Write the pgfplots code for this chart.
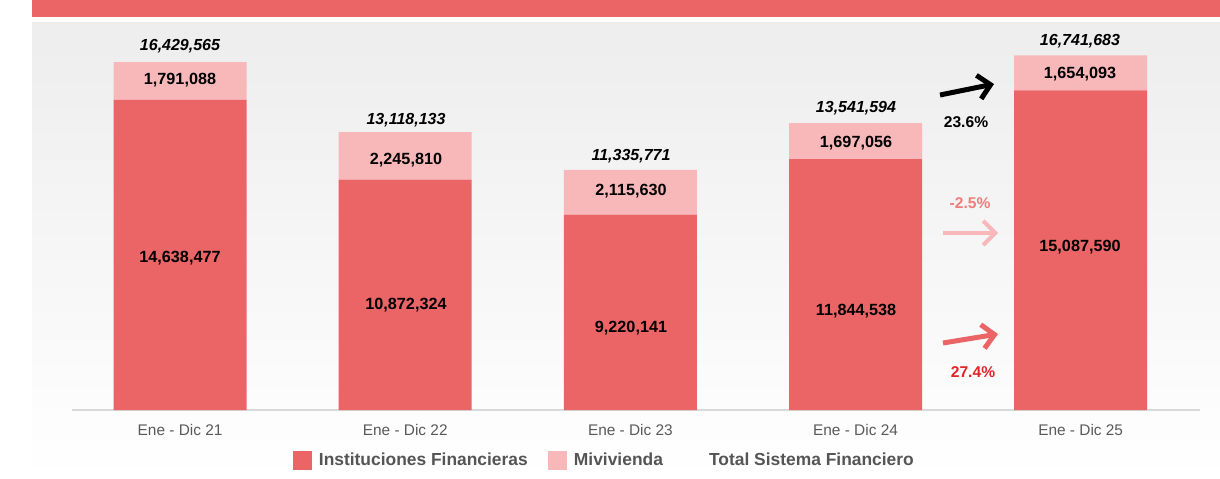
\documentclass[border=0pt]{standalone}
\usepackage{pgfplots}
\pgfplotsset{compat=1.18}
\usepackage{pgfplotstable}
\usepackage{fontspec}
\setmainfont{Liberation Sans}
\usetikzlibrary{arrows.meta}

\definecolor{barDark}{RGB}{235,100,102}
\definecolor{barLight}{RGB}{248,184,186}
\definecolor{tickGray}{RGB}{89,89,89}
\definecolor{legGray}{RGB}{85,85,85}
\definecolor{pctPink}{RGB}{240,124,124}
\definecolor{pctRed}{RGB}{224,36,40}
\definecolor{baseGray}{RGB}{217,217,217}

\newcommand\lbl{\bfseries\fontsize{8.1}{9}\selectfont}
\newcommand\pct{\bfseries\fontsize{7.8}{9}\selectfont}
\newcommand\tot{\bfseries\itshape\fontsize{8}{9}\selectfont}

% Instituciones Financieras / Mivivienda
\pgfplotstableread{
x inst miv
0 14638477 1791088
1 10872324 2245810
2 9220141 2115630
3 11844538 1697056
4 15087590 1654093
}\datos

\begin{document}
\begin{tikzpicture}
% 1 px of the original = 0.5pt
\begin{scope}[x=0.5pt,y=-0.5pt]
\path[use as bounding box] (0,0) rectangle (1220,478);
\fill[barDark] (32,0) rectangle (1220,17);
\shade[top color=black!7, bottom color=white] (32,22) rectangle (1220,478);
\end{scope}

\begin{axis}[
  at={(36pt,-205pt)}, anchor=south west,
  scale only axis, width=564pt, height=194pt,
  ybar stacked, bar width=66.5pt,
  xmin=-0.48, xmax=4.53, ymin=0, ymax=18317900,
  axis x line*=bottom, axis y line=none,
  x axis line style={draw=baseGray, line width=1pt},
  xtick={0,...,4},
  xticklabels={Ene - Dic 21, Ene - Dic 22, Ene - Dic 23, Ene - Dic 24, Ene - Dic 25},
  xtick style={draw=none}, major tick length=0pt,
  xticklabel style={font=\fontsize{7.7}{9}\selectfont, text=tickGray, anchor=base, yshift=-12.5pt},
  ytick=\empty,
  legend columns=3,
  legend style={at={(0.473,-0.130)}, anchor=center, draw=none, fill=none,
    font=\bfseries\fontsize{8.7}{10}\selectfont, text=legGray,
    /tikz/every odd column/.append style={column sep=1.3pt},
    /tikz/every even column/.append style={column sep=8.3pt}},
  sq legend/.style={legend image code/.code={\path[##1] (0pt,-4.75pt) rectangle (9.5pt,4.75pt);}},
]
\addplot[fill=barDark, draw=none, sq legend] table[x=x, y=inst] {\datos};
\addlegendentry{Instituciones Financieras}
\addplot[fill=barLight, draw=none, sq legend] table[x=x, y=miv] {\datos};
\addlegendentry{Mivivienda}
\addlegendimage{sq legend, draw=none, fill=none}
\addlegendentry{Total Sistema Financiero}
\end{axis}

\begin{scope}[x=0.5pt,y=-0.5pt]
% totals
\node[font=\tot] at (180,46) {16,429,565};
\node[font=\tot] at (406,120) {13,118,133};
\node[font=\tot] at (631,156) {11,335,771};
\node[font=\tot] at (856,108) {13,541,594};
\node[font=\tot] at (1080,41) {16,741,683};
% Mivivienda
\node[font=\lbl] at (180,80) {1,791,088};
\node[font=\lbl] at (406,160) {2,245,810};
\node[font=\lbl] at (631,191) {2,115,630};
\node[font=\lbl] at (856,143) {1,697,056};
\node[font=\lbl] at (1080,74) {1,654,093};
% Instituciones
\node[font=\lbl] at (180,258) {14,638,477};
\node[font=\lbl] at (406,305) {10,872,324};
\node[font=\lbl] at (631,328) {9,220,141};
\node[font=\lbl] at (856,311) {11,844,538};
\node[font=\lbl] at (1080,247) {15,087,590};
% variations
\draw[black, line width=2.5pt, -{Straight Barb[length=6pt,width=12pt]}] (940,95) -- (994,84);
\node[font=\pct, text=black] at (966,122) {23.6\%};
\node[font=\pct, text=pctPink] at (970,203) {-2.5\%};
\draw[barLight, line width=2pt, -{Straight Barb[length=6pt,width=12pt]}] (943,233) -- (998,233);
\draw[barDark, line width=2.5pt, -{Straight Barb[length=6pt,width=12pt]}] (943,343) -- (998,334);
\node[font=\pct, text=pctRed] at (973,372) {27.4\%};
\end{scope}
\end{tikzpicture}
\end{document}
